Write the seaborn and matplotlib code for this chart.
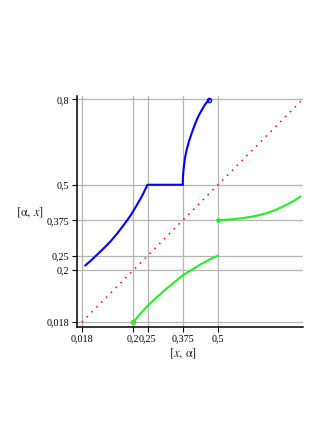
import matplotlib
matplotlib.use("Agg")
import matplotlib.pyplot as plt
import seaborn as sns

# diagonal y = x
diag_x = [0.0, 0.8]
diag_y = [0.0, 0.8]

# blue branch, first part then flat part
blue1_x = [0.029, 0.05, 0.071, 0.095, 0.118, 0.142, 0.166, 0.19, 0.213,
           0.232, 0.25, 0.375]
blue1_y = [0.216, 0.234, 0.254, 0.277, 0.300, 0.328, 0.359, 0.392, 0.430,
           0.463, 0.5, 0.5]
# blue branch after the jump
blue2_x = [0.375, 0.3755, 0.377, 0.379, 0.383, 0.389, 0.397, 0.407, 0.418,
           0.430, 0.442, 0.454, 0.462, 0.469]
blue2_y = [0.5, 0.52, 0.545, 0.564, 0.595, 0.623, 0.653, 0.682, 0.712,
           0.740, 0.762, 0.782, 0.792, 0.799]

# green branches
green1_x = [0.2, 0.226, 0.253, 0.282, 0.312, 0.345, 0.377, 0.41, 0.442,
            0.472, 0.5]
green1_y = [0.018, 0.048, 0.077, 0.104, 0.130, 0.157, 0.183, 0.203, 0.222,
            0.238, 0.251]
green2_x = [0.5, 0.545, 0.590, 0.632, 0.673, 0.71, 0.744, 0.77, 0.793]
green2_y = [0.375, 0.378, 0.383, 0.390, 0.400, 0.414, 0.430, 0.444, 0.459]

xticks = [0.018, 0.2, 0.25, 0.375, 0.5]
xlabels = ["0,018", "0,2", "0,25", "0,375", "0,5"]
yticks = [0.018, 0.2, 0.25, 0.375, 0.5, 0.8]
ylabels = ["0,018", "0,2", "0,25", "0,375", "0,5", "0,8"]

sns.set_style("white")
plt.rcParams["font.family"] = ["Liberation Serif", "DejaVu Serif"]
plt.rcParams["mathtext.fontset"] = "stix"

fig = plt.figure(figsize=(3.27, 4.23), dpi=100)
ax = fig.add_axes([77 / 327, 1 - 327 / 423, 225.6 / 327, 231 / 423])

for t in xticks:
    ax.axvline(t, color="#b4b4b4", lw=0.9, zorder=0)
for t in yticks:
    ax.axhline(t, color="#b4b4b4", lw=0.9, zorder=0)

sns.lineplot(x=diag_x, y=diag_y, ax=ax, color="red", lw=1.1,
             linestyle=(0, (1, 3.5)), sort=False)
sns.lineplot(x=blue1_x, y=blue1_y, ax=ax, color="blue", lw=1.5, sort=False)
sns.lineplot(x=blue2_x, y=blue2_y, ax=ax, color="blue", lw=1.5, sort=False)
sns.lineplot(x=green1_x, y=green1_y, ax=ax, color="#22ee22", lw=1.5, sort=False)
sns.lineplot(x=green2_x, y=green2_y, ax=ax, color="#22ee22", lw=1.5, sort=False)

ax.plot([blue2_x[-1]], [blue2_y[-1]], marker="o", ms=3, mfc="none",
        mec="blue", mew=1)
ax.plot([green1_x[0]], [green1_y[0]], marker="o", ms=3, mfc="none",
        mec="#22ee22", mew=1)
ax.plot([green2_x[0]], [green2_y[0]], marker="o", ms=2.3, mfc="#22ee22",
        mec="#22ee22", mew=1)

ax.set_xlim(0, 0.8)
ax.set_ylim(0, 0.812)
ax.set_xticks(xticks)
ax.set_xticklabels(xlabels)
ax.set_yticks(yticks)
ax.set_yticklabels(ylabels)
ax.tick_params(axis="both", labelsize=7.3, length=3.5, width=0.8,
               direction="out", pad=2, color="black", labelcolor="black")
ax.tick_params(axis="x", bottom=True)
ax.tick_params(axis="y", left=True)

for s in ["top", "right"]:
    ax.spines[s].set_visible(False)
for s in ["left", "bottom"]:
    ax.spines[s].set_color("black")
    ax.spines[s].set_linewidth(1.1)

ax.text(0.47, -0.115, r"$[x,\,\mathrm{\alpha}]$", transform=ax.transAxes,
        ha="center", va="center", fontsize=9)
ax.text(-0.208, 0.494, r"$[\mathrm{\alpha},\,x]$", transform=ax.transAxes,
        ha="center", va="center", fontsize=9)

fig.savefig("out.png", dpi=100)
